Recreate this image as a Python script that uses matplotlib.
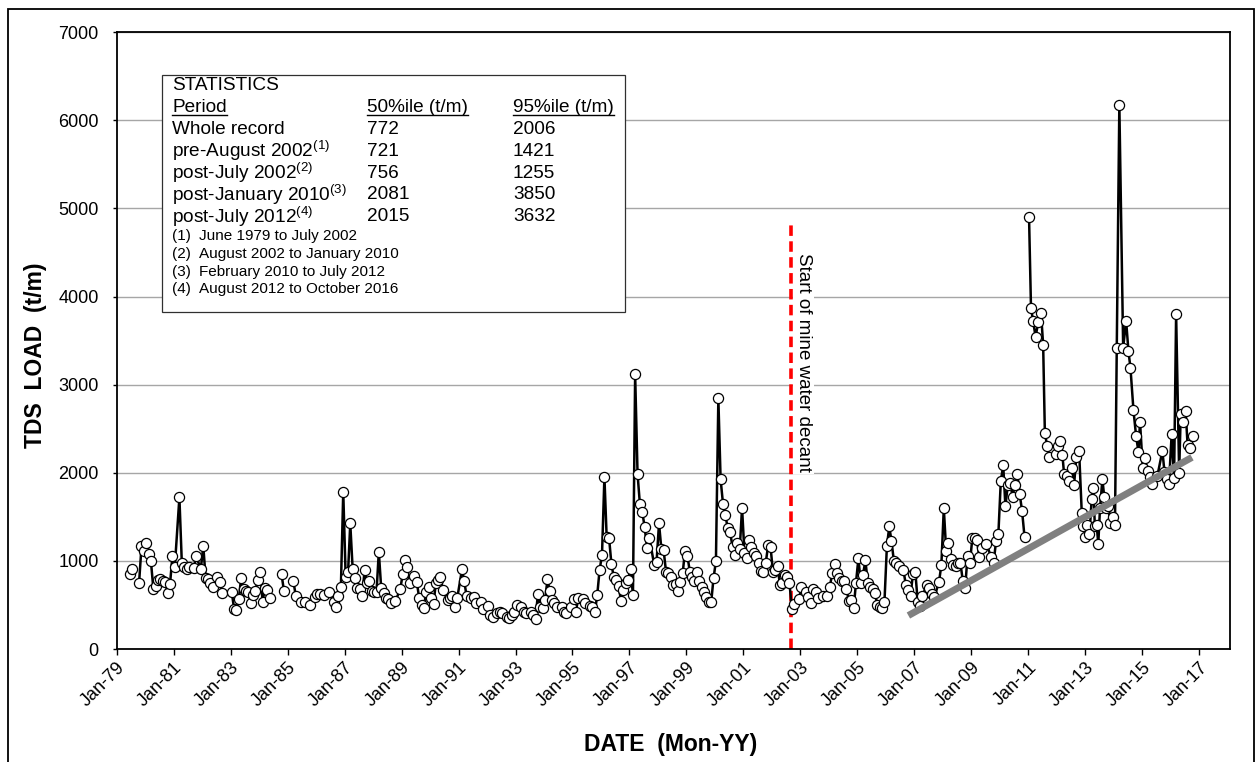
import numpy as np
import pandas as pd
import matplotlib
matplotlib.use('Agg')
import matplotlib.pyplot as plt
from matplotlib.patches import Rectangle
from matplotlib.lines import Line2D

plt.rcParams['font.family'] = ['Liberation Sans', 'DejaVu Sans']
plt.rcParams['mathtext.default'] = 'regular'

# TDS load (t/m); None marks a break in the record
dates_1979_1989 = [
    '1979-06-15', '1979-07-15', '1979-08-15', '1979-10-15', '1979-11-15', '1979-12-15',
    '1980-01-15', '1980-02-15', '1980-03-15', '1980-04-15', '1980-05-15', '1980-06-15',
    '1980-07-15', '1980-08-15', '1980-09-15', '1980-10-15', '1980-11-15', '1980-12-15',
    '1981-01-15', '1981-03-15', '1981-04-15', '1981-05-15', '1981-06-15', '1981-07-15',
    '1981-09-15', '1981-10-15', '1981-12-15', '1982-01-15', '1982-02-15', '1982-03-15',
    '1982-04-15', '1982-05-15', '1982-07-15', '1982-08-15', '1982-09-15', '1983-01-15',
    '1983-02-15', '1983-03-15', '1983-04-15', '1983-05-15', '1983-06-15', '1983-07-15',
    '1983-08-15', '1983-09-15', '1983-10-15', '1983-11-15', '1983-12-15', '1984-01-15',
    '1984-02-15', '1984-03-15', '1984-04-15', '1984-05-15', '1984-07-15', '1984-10-15',
    '1984-11-15', '1985-01-15', '1985-03-15', '1985-04-15', '1985-06-15', '1985-08-15',
    '1985-10-15', '1985-12-15', '1986-01-15', '1986-02-15', '1986-04-15', '1986-06-15',
    '1986-08-15', '1986-09-15', '1986-10-15', '1986-11-15', '1986-12-15', '1987-01-15',
    '1987-02-15', '1987-03-15', '1987-04-15', '1987-05-15', '1987-06-15', '1987-07-15',
    '1987-08-15', '1987-09-15', '1987-10-15', '1987-11-15', '1987-12-15', '1988-01-15',
    '1988-02-15', '1988-03-15', '1988-04-15', '1988-05-15', '1988-06-15', '1988-07-15',
    '1988-08-15', '1988-10-15', '1988-12-15', '1989-01-15', '1989-02-15', '1989-03-15',
    '1989-04-15', '1989-06-15', '1989-07-15', '1989-08-15', '1989-09-15', '1989-10-15',
    '1989-11-15', '1989-12-15',
]
load_1979_1989 = [
    847, 907, None, 752, 1164, 1115,
    1206, 1077, 994, 684, 714, 782,
    790, 771, 760, 635, 737, 1055,
    934, 1720, 979, 934, 911, 934,
    922, 1051, 911, 1172, 801, 790,
    752, 707, 813, 764, 639, 650,
    450, 442, 563, 801, 677, 661,
    650, 518, 612, 661, 782, 877,
    537, 690, 669, 575, None, 847,
    658, None, 775, 605, 537, 529,
    499, 593, 620, 624, 612, 645,
    529, 472, 605, 707, 1784, 820,
    877, 1425, 903, 801, 688, 680,
    601, 896, 745, 775, 661, 643,
    650, 1104, 688, 639, 582, 563,
    525, 548, 677, 847, 1009, 926,
    745, 828, 764, 575, 499, 461,
    650, 699,
]

dates_1990_1999 = [
    '1990-01-15', '1990-02-15', '1990-03-15', '1990-04-15', '1990-05-15', '1990-06-15',
    '1990-08-15', '1990-09-15', '1990-10-15', '1990-11-15', '1990-12-15', '1991-02-15',
    '1991-03-15', '1991-04-15', '1991-06-15', '1991-07-15', '1991-08-15', '1991-10-15',
    '1991-11-15', '1992-01-15', '1992-02-15', '1992-03-15', '1992-05-15', '1992-06-15',
    '1992-07-15', '1992-09-15', '1992-10-15', '1992-11-15', '1992-12-15', '1993-01-15',
    '1993-03-15', '1993-04-15', '1993-05-15', '1993-07-15', '1993-08-15', '1993-09-15',
    '1993-10-15', '1993-11-15', '1993-12-15', '1994-01-15', '1994-02-15', '1994-03-15',
    '1994-04-15', '1994-05-15', '1994-06-15', '1994-08-15', '1994-09-15', '1994-10-15',
    '1994-12-15', '1995-01-15', '1995-02-15', '1995-03-15', '1995-05-15', '1995-06-15',
    '1995-08-15', '1995-09-15', '1995-10-15', '1995-11-15', '1995-12-15', '1996-01-15',
    '1996-02-15', '1996-03-15', '1996-04-15', '1996-05-15', '1996-06-15', '1996-07-15',
    '1996-08-15', '1996-09-15', '1996-10-15', '1996-11-15', '1996-12-15', '1997-01-15',
    '1997-02-15', '1997-03-15', '1997-04-15', '1997-05-15', '1997-06-15', '1997-07-15',
    '1997-08-15', '1997-09-15', '1997-11-15', '1997-12-15', '1998-01-15', '1998-02-15',
    '1998-03-15', '1998-04-15', '1998-05-15', '1998-06-15', '1998-07-15', '1998-08-15',
    '1998-09-15', '1998-10-15', '1998-11-15', '1998-12-15', '1999-01-15', '1999-02-15',
    '1999-03-15', '1999-04-15', '1999-05-15', '1999-06-15', '1999-07-15', '1999-08-15',
    '1999-09-15', '1999-10-15', '1999-11-15', '1999-12-15',
]
load_1990_1999 = [
    575, 507, 745, 782, 813, 669,
    556, 582, 605, 472, 575, 903,
    771, 601, 575, 586, 525, 529,
    450, 491, 386, 367, 404, 423,
    404, 367, 348, 386, 423, 499,
    480, 423, 404, 423, 386, 340,
    624, 480, 461, 556, 790, 662,
    556, 518, 480, 473, 424, 412,
    473, 564, 424, 575, 564, 518,
    488, 480, 416, 613, 896, 1066,
    1955, 1267, 1256, 964, 813, 783,
    715, 548, 669, 745, 783, 904,
    613, 3120, 1986, 1645, 1558, 1380,
    1150, 1256, 953, 991, 1426, 1131,
    1123, 877, 858, 813, 726, 737,
    662, 764, 866, 1116, 1055, 874,
    821, 775, 877, 775, 707, 650,
    586, 537, 529, 802,
]

dates_2000_2009 = [
    '2000-01-15', '2000-02-15', '2000-03-15', '2000-04-15', '2000-05-15', '2000-06-15',
    '2000-07-15', '2000-08-15', '2000-09-15', '2000-10-15', '2000-11-15', '2000-12-15',
    '2001-01-15', '2001-02-15', '2001-03-15', '2001-04-15', '2001-05-15', '2001-06-15',
    '2001-07-15', '2001-08-15', '2001-09-15', '2001-10-15', '2001-11-15', '2001-12-15',
    '2002-01-15', '2002-02-15', '2002-03-15', '2002-04-15', '2002-05-15', '2002-06-15',
    '2002-07-15', '2002-08-15', '2002-09-15', '2002-10-15', '2002-12-15', '2003-01-15',
    '2003-03-15', '2003-04-15', '2003-05-15', '2003-06-15', '2003-07-15', '2003-08-15',
    '2003-10-15', '2003-12-15', '2004-01-15', '2004-02-15', '2004-03-15', '2004-04-15',
    '2004-05-15', '2004-06-15', '2004-07-15', '2004-08-15', '2004-09-15', '2004-10-15',
    '2004-11-15', '2004-12-15', '2005-01-15', '2005-02-15', '2005-03-15', '2005-04-15',
    '2005-05-15', '2005-06-15', '2005-07-15', '2005-08-15', '2005-09-15', '2005-10-15',
    '2005-11-15', '2005-12-15', '2006-01-15', '2006-02-15', '2006-03-15', '2006-04-15',
    '2006-05-15', '2006-06-15', '2006-08-15', '2006-09-15', '2006-10-15', '2006-11-15',
    '2006-12-15', '2007-01-15', '2007-02-15', '2007-03-15', '2007-04-15', '2007-06-15',
    '2007-07-15', '2007-08-15', '2007-09-15', '2007-11-15', '2007-12-15', '2008-01-15',
    '2008-02-15', '2008-03-15', '2008-04-15', '2008-05-15', '2008-06-15', '2008-07-15',
    '2008-08-15', '2008-09-15', '2008-10-15', '2008-11-15', '2008-12-15', '2009-01-15',
    '2009-02-15', '2009-03-15', '2009-04-15', '2009-05-15', '2009-07-15', '2009-09-15',
    '2009-10-15', '2009-11-15', '2009-12-15',
]
load_2000_2009 = [
    998, 2844, 1925, 1645, 1520, 1369,
    1324, 1161, 1066, 1199, 1131, 1604,
    1085, 1029, 1237, 1161, 1085, 1055,
    980, 889, 877, 980, 1180, 1161,
    877, 896, 942, 726, 745, 840,
    821, 753, 450, 510, 563, 700,
    650, 586, 526, 677, 643, 575,
    601, 601, 707, 866, 961, 866,
    802, 775, 771, 677, 548, 556,
    461, 753, 1029, 745, 840, 1010,
    745, 707, 677, 639, 499, 480,
    461, 532, 1164, 1391, 1226, 999,
    978, 937, 896, 730, 669, 607,
    854, 875, 532, 483, 607, 730,
    689, 627, 586, 763, 957, 1597,
    1110, 1205, 1019, 957, 937, 978,
    978, 772, 697, 1061, 978, 1259,
    1259, 1238, 1040, 1143, 1193, 1040,
    978, 1226, 1308,
]

dates_2010_2016 = [
    '2010-01-15', '2010-02-15', '2010-03-15', '2010-04-15', '2010-05-15', '2010-06-15',
    '2010-07-15', '2010-08-15', '2010-09-15', '2010-10-15', '2010-11-15', '2010-12-15',
    '2011-01-12', '2011-02-06', '2011-03-06', '2011-04-06', '2011-05-10', '2011-06-15',
    '2011-07-12', '2011-08-03', '2011-09-03', '2011-10-01', '2011-12-20', '2012-01-15',
    '2012-02-15', '2012-03-15', '2012-04-05', '2012-05-10', '2012-06-12', '2012-07-12',
    '2012-08-12', '2012-09-08', '2012-10-15', '2012-11-18', '2012-12-10', '2013-01-05',
    '2013-01-25', '2013-02-25', '2013-03-25', '2013-04-15', '2013-05-05', '2013-05-28',
    '2013-06-18', '2013-07-10', '2013-08-10', '2013-09-03', '2013-09-28', '2013-10-25',
    '2013-11-15', '2013-12-18', '2014-01-18', '2014-02-10', '2014-03-15', '2014-05-03',
    '2014-06-10', '2014-07-10', '2014-08-05', '2014-09-12', '2014-10-15', '2014-11-15',
    '2014-12-05', '2015-01-10', '2015-02-05', '2015-03-12', '2015-04-15', '2015-05-05',
    '2015-07-15', '2015-09-18', '2015-10-15', '2015-11-12', '2015-12-12', '2016-01-15',
    '2016-02-15', '2016-03-12', '2016-04-20', '2016-05-10', '2016-06-12', '2016-07-12',
    '2016-08-06', '2016-09-06', '2016-10-18',
]
load_2010_2016 = [
    1907, 2084, 1618, 1865, 1886, 1729,
    1865, 1989, 1754, 1564, 1275, None,
    4907, 3875, 3722, 3545, 3710, 3809,
    3454, 2451, 2299, 2175, 2216, 2300,
    2361, 2204, 1989, 1969, 1907, 2051,
    1865, 2175, 2249, 1548, 1399, 1275,
    1411, 1300, 1700, 1824, 1399, 1411,
    1193, 1597, 1927, 1721, 1597, 1618,
    1432, 1494, 1411, 3421, 6178, 3421,
    3723, 3380, 3186, 2711, 2423, 2237,
    2579, 2051, 2167, 2018, 1950, 1878,
    1960, 2249, 2010, 1927, 1878, 2443,
    1936, 3805, 2002, 2662, 2579, 2703,
    2319, 2278, 2414,
]

# trend line drawn over the post-2006 record
trend_dates = ['2006-10-18', '2016-10-01']
trend_load = [380, 2175]

decant_date = '2002-09-01'
decant_top = 4850

stats_rows = [
    ('Whole record', '772', '2006'),
    ('pre-August 2002$^{(1)}$', '721', '1421'),
    ('post-July 2002$^{(2)}$', '756', '1255'),
    ('post-January 2010$^{(3)}$', '2081', '3850'),
    ('post-July 2012$^{(4)}$', '2015', '3632'),
]
footnotes = [
    ('(1)', 'June 1979 to July 2002'),
    ('(2)', 'August 2002 to January 2010'),
    ('(3)', 'February 2010 to July 2012'),
    ('(4)', 'August 2012 to October 2016'),
]

dates = pd.to_datetime(dates_1979_1989 + dates_1990_1999 + dates_2000_2009 + dates_2010_2016)
load = np.array([np.nan if v is None else v
                 for v in load_1979_1989 + load_1990_1999 + load_2000_2009 + load_2010_2016],
                dtype=float)

W, H = 1255, 762
fig = plt.figure(figsize=(W / 100, H / 100), dpi=100)
ax = fig.add_axes([116.7 / W, 1 - 649 / H, (1230 - 116.7) / W, (649 - 32.3) / H])


def px(x, y):
    return x / W, 1 - y / H


ax.set_xlim(pd.Timestamp('1979-01-01'), pd.Timestamp('2018-02-01'))
ax.set_ylim(0, 7000)
ax.set_yticks(range(0, 7001, 1000))
ax.set_xticks(pd.to_datetime([f'{y}-01-01' for y in range(1979, 2018, 2)]))
ax.xaxis.set_major_formatter(matplotlib.dates.DateFormatter('%b-%y'))
ax.yaxis.grid(True, color='#a6a6a6', lw=1.0)
ax.set_axisbelow(True)
for s in ax.spines.values():
    s.set_linewidth(1.3)
ax.tick_params(axis='y', length=3, width=1, pad=10, labelsize=13)
ax.tick_params(axis='x', length=4, width=1, pad=3, labelsize=13)
plt.setp(ax.get_xticklabels(), rotation=45, ha='right', rotation_mode='anchor')

ax.plot(dates, load, '-o', color='black', lw=1.8, ms=7.3, mfc='white', mec='black', mew=0.9, zorder=3)
ax.plot(pd.to_datetime(trend_dates), trend_load, color='#808080', lw=5.0,
        solid_capstyle='butt', zorder=4)
ax.plot([pd.Timestamp(decant_date)] * 2, [0, decant_top], color='red', lw=2.6,
        linestyle=(0, (2.9, 1.5)), zorder=2)
ax.text(pd.Timestamp('2003-02-10'), 3256, 'Start of mine water decant', rotation=270,
        ha='center', va='center', fontsize=13.5,
        bbox=dict(facecolor='white', edgecolor='none', pad=1.5), zorder=2.5)

ax.set_ylabel('TDS  LOAD  (t/m)', fontsize=16.5, fontweight='bold')
ax.yaxis.set_label_coords(-0.0626, 0.4765)
ax.set_xlabel('DATE  (Mon-YY)', fontsize=16.5, fontweight='bold')
ax.xaxis.set_label_coords(0.498, -0.137)

# statistics box
x0, y0, x1, y1 = 162, 75, 625, 312
fig.add_artist(Rectangle(px(x0, y1), (x1 - x0) / W, (y1 - y0) / H, transform=fig.transFigure,
                         facecolor='white', edgecolor='#303030', lw=0.9, zorder=5))
fs = 13.7
fig.text(*px(172, 86), 'STATISTICS', fontsize=fs, va='center', zorder=6)
heads = [fig.text(*px(172, 107.5), 'Period', fontsize=fs, va='center', zorder=6),
         fig.text(*px(367, 107.5), '50%ile (t/m)', fontsize=fs, va='center', zorder=6),
         fig.text(*px(513, 107.5), '95%ile (t/m)', fontsize=fs, va='center', zorder=6)]
for i, (name, p50, p95) in enumerate(stats_rows):
    yy = 129.5 + i * 21.8
    fig.text(*px(172, yy), name, fontsize=fs, va='center', zorder=6)
    fig.text(*px(367, yy), p50, fontsize=fs, va='center', zorder=6)
    fig.text(*px(513, yy), p95, fontsize=fs, va='center', zorder=6)
for i, (num, txt) in enumerate(footnotes):
    yy = 236 + i * 17.8
    fig.text(*px(172, yy), num, fontsize=11, va='center', zorder=6)
    fig.text(*px(199, yy), txt, fontsize=11, va='center', zorder=6)

# underline the column headings
fig.canvas.draw()
inv = fig.transFigure.inverted()
for t in heads:
    bb = t.get_window_extent()
    (ux0, uy), (ux1, _) = inv.transform([(bb.x0, bb.y0 + 1), (bb.x1, bb.y0 + 1)])
    fig.add_artist(Line2D([ux0, ux1], [uy, uy], transform=fig.transFigure,
                          color='black', lw=1.0, zorder=6))

# outer frame
fig.add_artist(Rectangle(px(7.5, 780), (1254 - 7.5) / W, (780 - 8.5) / H,
                         transform=fig.transFigure, fill=False, edgecolor='black',
                         lw=1.3, zorder=7))

fig.savefig('out.png', dpi=100)
